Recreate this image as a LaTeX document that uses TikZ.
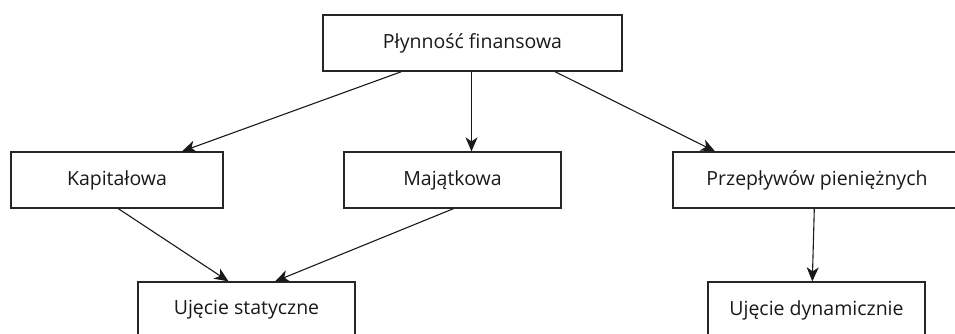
\documentclass[tikz,border=0pt]{standalone}
\usepackage{fontspec}
\setmainfont{Open Sans}
\usetikzlibrary{arrows.meta}
\begin{document}
\begin{tikzpicture}[x=1pt,y=-1pt,
  box/.style={draw=black!85, line width=1.3pt, minimum height=56pt,
    inner sep=0pt, font=\fontsize{19.5}{23}\selectfont, text=black!90},
  link/.style={draw=black!90, line width=1.1pt,
    -{Stealth[length=14pt,width=12pt,inset=4pt]}}]
  \useasboundingbox (0,0) rectangle (955,333);
  \clip (0,0) rectangle (955,333);
  % tree of liquidity notions
  \node[box, minimum width=299pt] (top) at (472.5,43) {Płynność finansowa};
  \node[box, minimum width=212pt] (kap) at (117,180) {Kapitałowa};
  \node[box, minimum width=217pt] (maj) at (452.5,180) {Majątkowa};
  \node[box, minimum width=288pt] (prz) at (817,180) {Przepływów pieniężnych};
  \node[box, minimum width=217pt] (stat) at (246.5,310) {Ujęcie statyczne};
  \node[box, minimum width=217pt] (dyn) at (816.5,310) {Ujęcie dynamicznie};
  % connectors
  \draw[link] ([xshift=-71pt]top.south) -- ([xshift=65pt]kap.north);
  \draw[link] ([xshift=-1pt]top.south) -- ([xshift=19pt]maj.north);
  \draw[link] ([xshift=82.5pt]top.south) -- ([xshift=-102pt]prz.north);
  \draw[link] ([xshift=1.3pt]kap.south) -- ([xshift=-18pt]stat.north);
  \draw[link] ([xshift=1pt]maj.south) -- ([xshift=28.5pt]stat.north);
  \draw[link] ([xshift=-2.7pt]prz.south) -- ([xshift=-4.2pt]dyn.north);
\end{tikzpicture}
\end{document}
